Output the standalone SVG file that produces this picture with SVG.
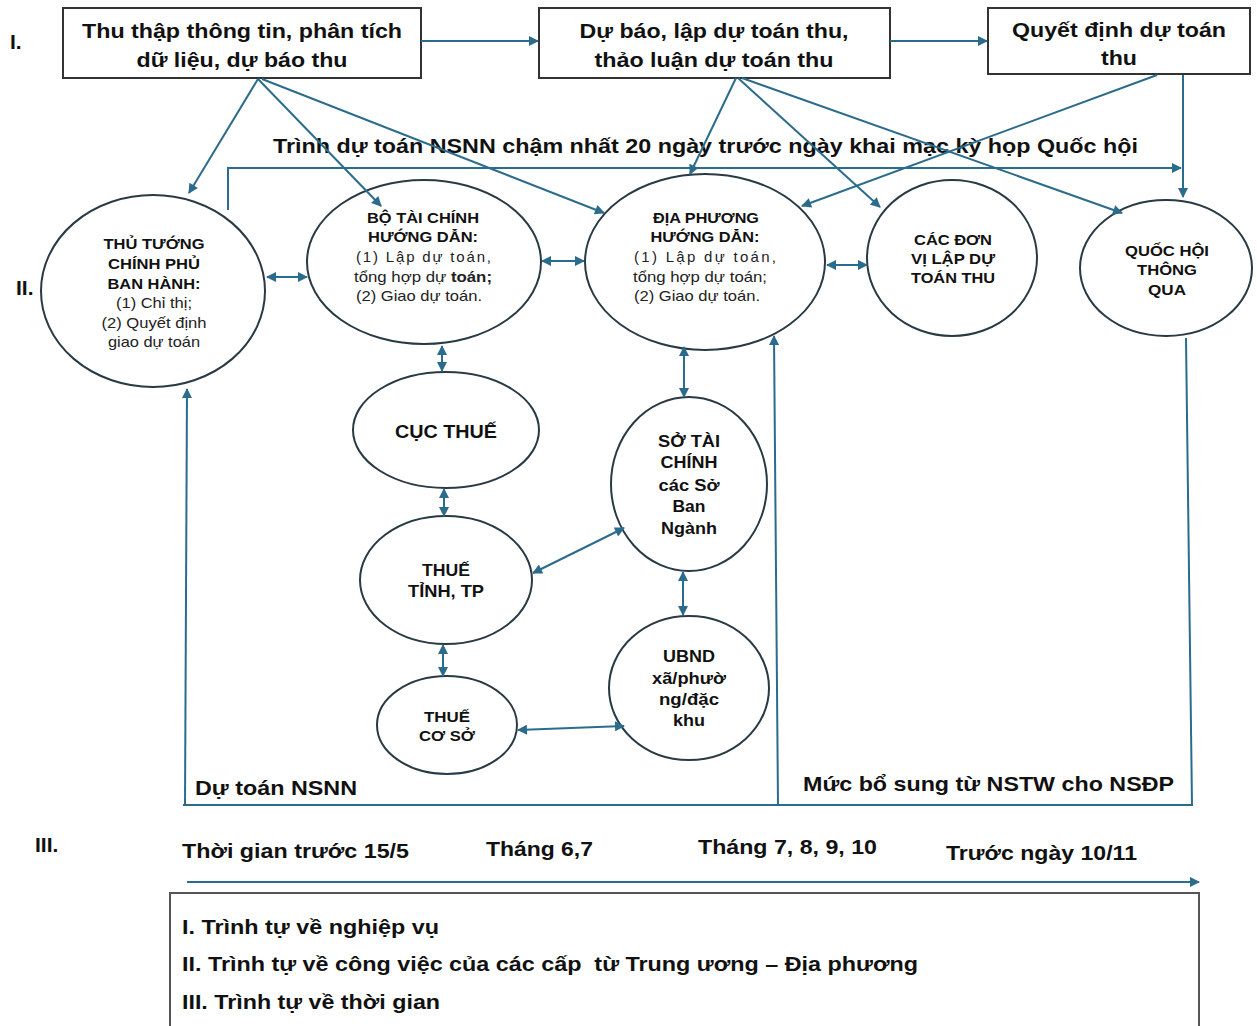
<svg xmlns="http://www.w3.org/2000/svg" width="1257" height="1026" viewBox="0 0 1257 1026">
<style>
text{font-family:"Liberation Sans",Arial,sans-serif;fill:#111}
.big{font-size:21px;font-weight:bold}
.mid{font-size:17px;font-weight:bold}
.sb{font-size:15px;font-weight:bold}
.sn{font-size:15px;font-weight:normal;fill:#222}
.box{fill:#fff;stroke:#333;stroke-width:2}
.ell{fill:#fff;stroke:#2a3a44;stroke-width:2}
.c{fill:none;stroke:#2b6c8c;stroke-width:2}
.a{marker-end:url(#ah)}
.b{marker-start:url(#ah);marker-end:url(#ah)}
</style>
<defs>
<marker id="ah" viewBox="0 0 10 10" refX="9" refY="5" markerWidth="11" markerHeight="10" markerUnits="userSpaceOnUse" orient="auto-start-reverse">
<path d="M0,0 L10,5 L0,10 z" fill="#2b6c8c"/>
</marker>
</defs>
<rect width="1257" height="1026" fill="#fff"/>

<g id="section-labels">
<text class="big" x="10" y="49">I.</text>
<text class="big" x="16" y="295">II.</text>
<text class="big" x="35" y="852">III.</text>
</g>

<g id="box-thu-thap">
<rect class="box" x="63" y="8" width="358" height="70"/>
<text class="big" x="242" y="38" text-anchor="middle" textLength="320" lengthAdjust="spacingAndGlyphs">Thu thập thông tin, phân tích</text>
<text class="big" x="242" y="67" text-anchor="middle" textLength="211" lengthAdjust="spacingAndGlyphs">dữ liệu, dự báo thu</text>
</g>
<g id="box-du-bao">
<rect class="box" x="539" y="8" width="351" height="70"/>
<text class="big" x="714" y="38" text-anchor="middle" textLength="269" lengthAdjust="spacingAndGlyphs">Dự báo, lập dự toán thu,</text>
<text class="big" x="714" y="67" text-anchor="middle" textLength="239" lengthAdjust="spacingAndGlyphs">thảo luận dự toán thu</text>
</g>
<g id="box-quyet-dinh">
<rect class="box" x="988" y="8" width="262" height="66"/>
<text class="big" x="1119" y="37" text-anchor="middle" textLength="214" lengthAdjust="spacingAndGlyphs">Quyết định dự toán</text>
<text class="big" x="1119" y="65" text-anchor="middle" textLength="36" lengthAdjust="spacingAndGlyphs">thu</text>
</g>

<g id="label-trinh">
<text class="big" x="273" y="153" textLength="865" lengthAdjust="spacingAndGlyphs">Trình dự toán NSNN chậm nhất 20 ngày trước ngày khai mạc kỳ họp Quốc hội</text>
</g>

<g id="node-thu-tuong">
<ellipse class="ell" cx="153" cy="291" rx="112" ry="96"/>
<text class="sb" x="154" y="249" text-anchor="middle" textLength="101" lengthAdjust="spacingAndGlyphs">THỦ TƯỚNG</text>
<text class="sb" x="154" y="269" text-anchor="middle" textLength="92" lengthAdjust="spacingAndGlyphs">CHÍNH PHỦ</text>
<text class="sb" x="154" y="289" text-anchor="middle" textLength="93" lengthAdjust="spacingAndGlyphs">BAN HÀNH:</text>
<text class="sn" x="154" y="308" text-anchor="middle" textLength="76" lengthAdjust="spacingAndGlyphs">(1) Chỉ thị;</text>
<text class="sn" x="154" y="328" text-anchor="middle" textLength="105" lengthAdjust="spacingAndGlyphs">(2) Quyết định</text>
<text class="sn" x="154" y="347" text-anchor="middle" textLength="92" lengthAdjust="spacingAndGlyphs">giao dự toán</text>
</g>

<g id="node-bo-tai-chinh">
<ellipse class="ell" cx="424" cy="262" rx="117" ry="82"/>
<text class="sb" x="423" y="223" text-anchor="middle" textLength="112" lengthAdjust="spacingAndGlyphs">BỘ TÀI CHÍNH</text>
<text class="sb" x="423" y="242" text-anchor="middle" textLength="110" lengthAdjust="spacingAndGlyphs">HƯỚNG DẪN:</text>
<text class="sn" x="356" y="262" textLength="135" lengthAdjust="spacing">(1) Lập dự toán,</text>
<text class="sn" x="354" y="282" textLength="138" lengthAdjust="spacingAndGlyphs">tổng hợp dự <tspan font-weight="bold">toán;</tspan></text>
<text class="sn" x="356" y="301" textLength="126" lengthAdjust="spacingAndGlyphs">(2) Giao dự toán.</text>
</g>

<g id="node-dia-phuong">
<ellipse class="ell" cx="705" cy="262" rx="120" ry="88"/>
<text class="sb" x="706" y="223" text-anchor="middle" textLength="106" lengthAdjust="spacingAndGlyphs">ĐỊA PHƯƠNG</text>
<text class="sb" x="705" y="242" text-anchor="middle" textLength="109" lengthAdjust="spacingAndGlyphs">HƯỚNG DẪN:</text>
<text class="sn" x="634" y="262" textLength="142" lengthAdjust="spacing">(1) Lập dự toán,</text>
<text class="sn" x="633" y="282" textLength="134" lengthAdjust="spacingAndGlyphs">tổng hợp dự toán;</text>
<text class="sn" x="634" y="301" textLength="126" lengthAdjust="spacingAndGlyphs">(2) Giao dự toán.</text>
</g>

<g id="node-cac-don-vi">
<ellipse class="ell" cx="952" cy="258" rx="85" ry="78"/>
<text class="sb" x="953" y="245" text-anchor="middle" textLength="78" lengthAdjust="spacingAndGlyphs">CÁC ĐƠN</text>
<text class="sb" x="953" y="264" text-anchor="middle" textLength="84" lengthAdjust="spacingAndGlyphs">VỊ LẬP DỰ</text>
<text class="sb" x="953" y="283" text-anchor="middle" textLength="84" lengthAdjust="spacingAndGlyphs">TOÁN THU</text>
</g>

<g id="node-quoc-hoi">
<ellipse class="ell" cx="1166" cy="268" rx="86" ry="68"/>
<text class="sb" x="1167" y="256" text-anchor="middle" textLength="84" lengthAdjust="spacingAndGlyphs">QUỐC HỘI</text>
<text class="sb" x="1167" y="275" text-anchor="middle" textLength="60" lengthAdjust="spacingAndGlyphs">THÔNG</text>
<text class="sb" x="1167" y="295" text-anchor="middle" textLength="38" lengthAdjust="spacingAndGlyphs">QUA</text>
</g>

<g id="node-cuc-thue">
<ellipse class="ell" cx="446" cy="430" rx="93" ry="58"/>
<text class="big" x="446" y="438" text-anchor="middle" textLength="102" lengthAdjust="spacingAndGlyphs" style="font-size:19px">CỤC THUẾ</text>
</g>

<g id="node-so-tai-chinh">
<ellipse class="ell" cx="689" cy="484" rx="78" ry="87"/>
<text class="mid" x="689" y="447" text-anchor="middle" textLength="62" lengthAdjust="spacingAndGlyphs">SỞ TÀI</text>
<text class="mid" x="689" y="468" text-anchor="middle" textLength="57" lengthAdjust="spacingAndGlyphs">CHÍNH</text>
<text class="mid" x="689" y="491" text-anchor="middle" textLength="61" lengthAdjust="spacingAndGlyphs">các Sở</text>
<text class="mid" x="689" y="512" text-anchor="middle" textLength="33" lengthAdjust="spacingAndGlyphs">Ban</text>
<text class="mid" x="689" y="534" text-anchor="middle" textLength="56" lengthAdjust="spacingAndGlyphs">Ngành</text>
</g>

<g id="node-thue-tinh">
<ellipse class="ell" cx="446" cy="580" rx="86" ry="64"/>
<text class="mid" x="446" y="576" text-anchor="middle" textLength="48" lengthAdjust="spacingAndGlyphs">THUẾ</text>
<text class="mid" x="446" y="597" text-anchor="middle" textLength="76" lengthAdjust="spacingAndGlyphs">TỈNH, TP</text>
</g>

<g id="node-ubnd">
<ellipse class="ell" cx="689" cy="688" rx="80" ry="72"/>
<text class="mid" x="689" y="662" text-anchor="middle" textLength="52" lengthAdjust="spacingAndGlyphs">UBND</text>
<text class="mid" x="689" y="684" text-anchor="middle" textLength="74" lengthAdjust="spacingAndGlyphs">xã/phườ</text>
<text class="mid" x="689" y="705" text-anchor="middle" textLength="60" lengthAdjust="spacingAndGlyphs">ng/đặc</text>
<text class="mid" x="689" y="726" text-anchor="middle" textLength="32" lengthAdjust="spacingAndGlyphs">khu</text>
</g>

<g id="node-thue-co-so">
<ellipse class="ell" cx="447" cy="725" rx="70" ry="49"/>
<text class="sb" x="447" y="722" text-anchor="middle" textLength="46" lengthAdjust="spacingAndGlyphs">THUẾ</text>
<text class="sb" x="447" y="741" text-anchor="middle" textLength="56" lengthAdjust="spacingAndGlyphs">CƠ SỞ</text>
</g>

<g id="frame-labels">
<text class="big" x="195" y="795" textLength="162" lengthAdjust="spacingAndGlyphs">Dự toán NSNN</text>
<text class="big" x="803" y="791" textLength="371" lengthAdjust="spacingAndGlyphs">Mức bổ sung từ NSTW cho NSĐP</text>
</g>

<g id="timeline">
<text class="big" x="182" y="858" textLength="227" lengthAdjust="spacingAndGlyphs">Thời gian trước 15/5</text>
<text class="big" x="486" y="856" textLength="107" lengthAdjust="spacingAndGlyphs">Tháng 6,7</text>
<text class="big" x="698" y="854" textLength="179" lengthAdjust="spacingAndGlyphs">Tháng 7, 8, 9, 10</text>
<text class="big" x="946" y="860" textLength="191" lengthAdjust="spacingAndGlyphs">Trước ngày 10/11</text>
</g>

<g id="legend">
<rect x="170" y="893" width="1029" height="140" fill="#fff" stroke="#555" stroke-width="2"/>
<text class="big" x="182" y="934" textLength="257" lengthAdjust="spacingAndGlyphs">I. Trình tự về nghiệp vụ</text>
<text class="big" x="182" y="971" textLength="736" lengthAdjust="spacingAndGlyphs" xml:space="preserve">II. Trình tự về công việc của các cấp  từ Trung ương – Địa phương</text>
<text class="big" x="182" y="1009" textLength="258" lengthAdjust="spacingAndGlyphs">III. Trình tự về thời gian</text>
</g>

<g id="connectors">
<line class="c a" x1="421" y1="41" x2="538" y2="41"/>
<line class="c a" x1="890" y1="41" x2="987" y2="41"/>
<line class="c a" x1="258" y1="79" x2="189" y2="193"/>
<line class="c a" x1="258" y1="79" x2="381" y2="206"/>
<line class="c a" x1="262" y1="79" x2="604" y2="213"/>
<line class="c a" x1="736" y1="78" x2="690" y2="174"/>
<line class="c a" x1="738" y1="78" x2="880" y2="207"/>
<line class="c a" x1="742" y1="78" x2="1122" y2="213"/>
<line class="c a" x1="1157" y1="75" x2="802" y2="206"/>
<line class="c a" x1="1183" y1="75" x2="1183" y2="197"/>
<polyline class="c a" points="228,210 228,168 1181,168"/>
<line class="c b" x1="267" y1="277" x2="307" y2="277"/>
<line class="c b" x1="542" y1="261" x2="584" y2="261"/>
<line class="c b" x1="827" y1="265" x2="867" y2="265"/>
<line class="c b" x1="442" y1="346" x2="442" y2="371"/>
<line class="c b" x1="444" y1="489" x2="444" y2="516"/>
<line class="c b" x1="443" y1="645" x2="443" y2="676"/>
<line class="c b" x1="684" y1="347" x2="684" y2="397"/>
<line class="c b" x1="683" y1="572" x2="683" y2="615"/>
<line class="c b" x1="533" y1="573" x2="624" y2="528"/>
<line class="c b" x1="518" y1="730" x2="624" y2="726"/>
<line class="c a" x1="185" y1="805" x2="187" y2="389"/>
<line class="c" x1="183" y1="805" x2="1193" y2="805"/>
<line class="c a" x1="778" y1="805" x2="774" y2="336"/>
<line class="c" x1="1186" y1="338" x2="1192" y2="805"/>
<line class="c a" x1="187" y1="882" x2="1199" y2="882"/>
</g>
</svg>
